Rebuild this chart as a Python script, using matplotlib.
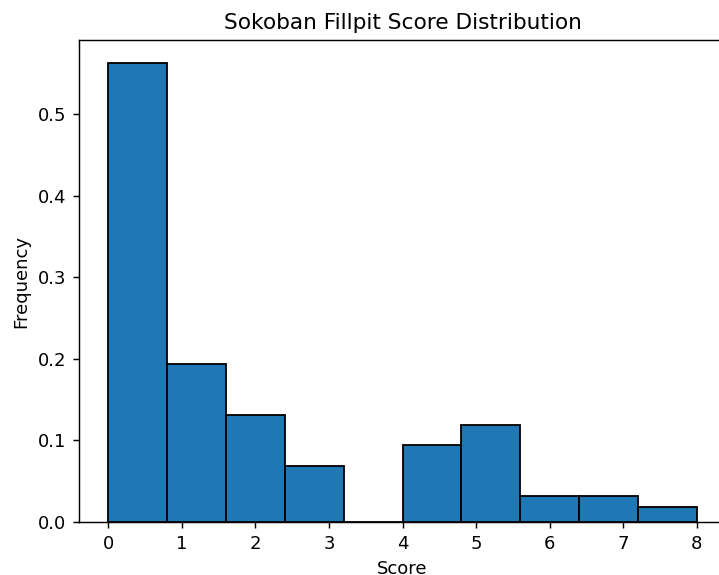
import matplotlib
matplotlib.use("Agg")
from matplotlib import pyplot as plt
import numpy as np

# histogram bins (width 0.8 over 0..8) and density heights per bin
bin_edges = [0.0, 0.8, 1.6, 2.4, 3.2, 4.0, 4.8, 5.6, 6.4, 7.2, 8.0]
frequency = [0.5625, 0.19375, 0.13125, 0.06875, 0.0,
             0.09375, 0.11875, 0.03125, 0.03125, 0.01875]

DPI = 130


def run():
    fig = plt.figure(figsize=(719 / DPI, 575 / DPI), dpi=DPI)
    ax = fig.add_axes([79 / 719, 1 - 522 / 575, (726 - 79) / 719, (522 - 40) / 575])

    ax.hist(bin_edges[:-1], bins=bin_edges, weights=frequency,
            color="#1f77b4", edgecolor="black")
    ax.set_title("Sokoban Fillpit Score Distribution")
    ax.set_xlabel("Score")
    ax.set_ylabel("Frequency")

    fig.savefig("out.png", dpi=DPI)


if __name__ == "__main__":
    run()
